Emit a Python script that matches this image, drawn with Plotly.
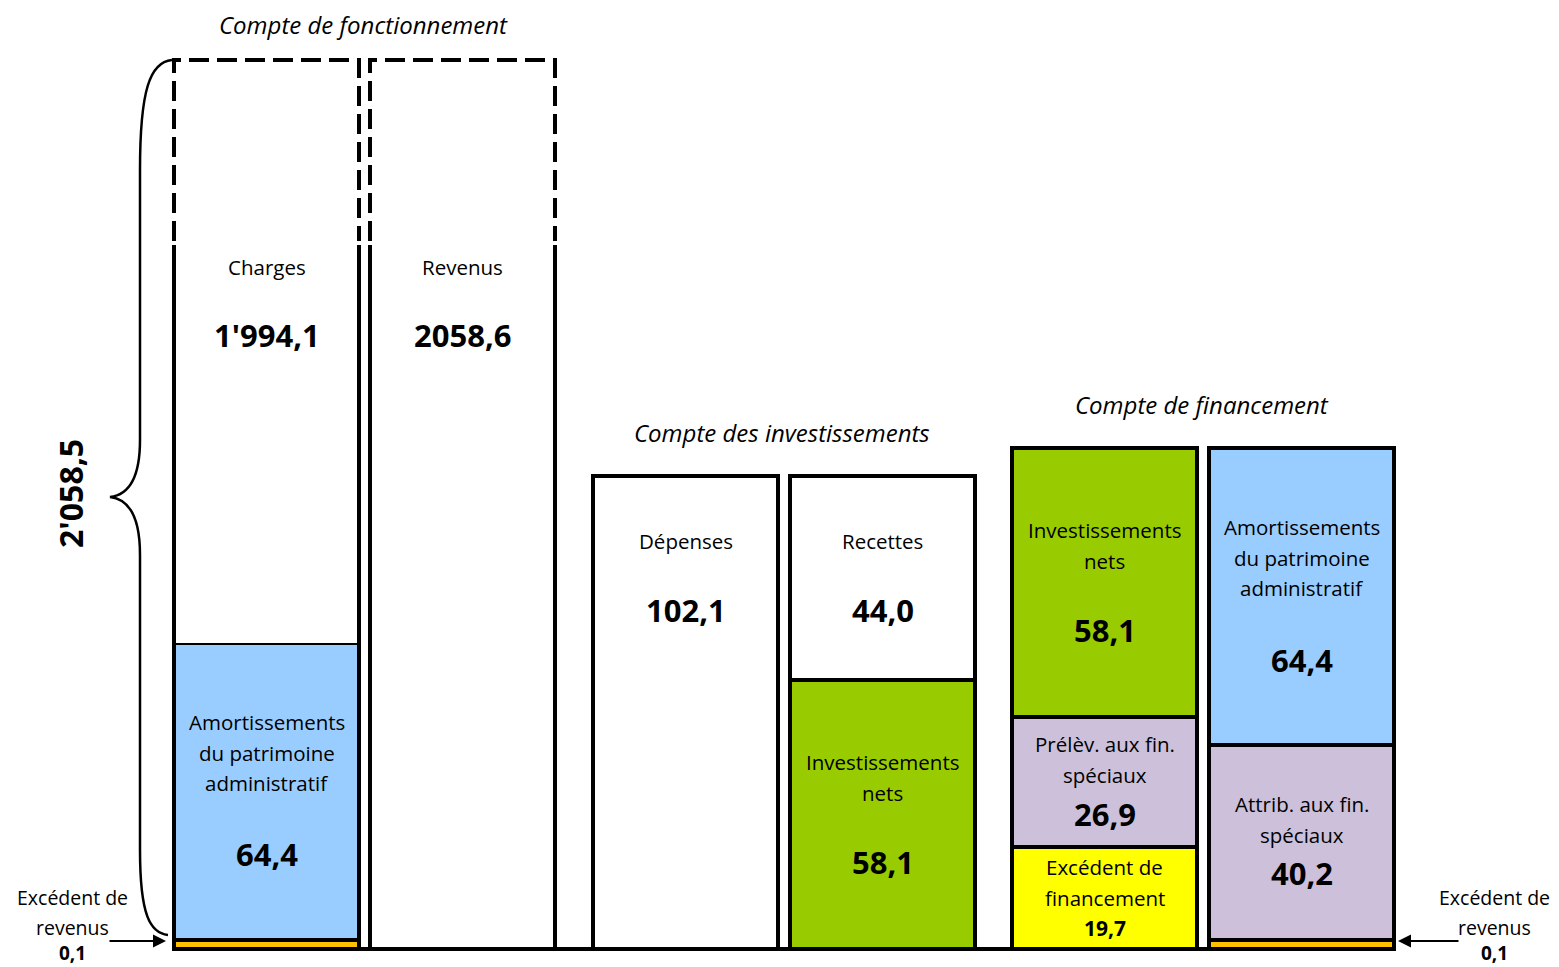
import plotly.graph_objects as go

# Schematic bar chart of the accounts (values in millions)
# one entry per segment, bottom to top inside each column
seg_column = ["Charges", "Charges", "Charges",
              "Revenus",
              "Dépenses",
              "Recettes", "Recettes",
              "FinA", "FinA", "FinA",
              "FinB", "FinB", "FinB"]
seg_label = ["Excédent de revenus",
             "Amortissements<br>du patrimoine<br>administratif",
             "Charges",
             "Revenus",
             "Dépenses",
             "Investissements<br>nets", "Recettes",
             "Excédent de<br>financement", "Prélèv. aux fin.<br>spéciaux", "Investissements<br>nets",
             "Excédent de revenus", "Attrib. aux fin.<br>spéciaux",
             "Amortissements<br>du patrimoine<br>administratif"]
seg_value = ["0,1", "64,4", "1'994,1",
             "2058,6",
             "102,1",
             "58,1", "44,0",
             "19,7", "26,9", "58,1",
             "0,1", "40,2", "64,4"]
# schematic (not to scale) display heights of the segments
seg_height = [9, 297, 583,
              889,
              473,
              269, 204,
              102, 130, 269,
              9, 195, 297]
seg_kind = ["surplus", "amort", "open",
            "open",
            "plain",
            "invest", "plain",
            "fin_surplus", "special", "invest",
            "surplus", "special", "amort"]

total_label = "2'058,5"
surplus_label = "Excédent de<br>revenus"
surplus_value = "0,1"

col_x = {"Charges": 266.5, "Revenus": 462.5, "Dépenses": 685.5,
         "Recettes": 882.5, "FinA": 1104.5, "FinB": 1301.5}
colors = {"surplus": "#FFC000", "amort": "#99CCFF", "open": "white",
          "plain": "white", "invest": "#99CC00", "fin_surplus": "#FFFF00",
          "special": "#CCC0DA"}

FONT = "Open Sans, Lato, sans-serif"
BAR_W = 185
LW = 4
TOP = 949  # pixel row of the baseline
PAGE_PAD = 8  # default body margin of the html page


def py(px):
    return TOP - px


fig = go.Figure()

bases = {}
for col, lab, val, h, kind in zip(seg_column, seg_label, seg_value, seg_height, seg_kind):
    b = bases.get(col, 0)
    fig.add_trace(go.Bar(
        x=[col_x[col]], y=[h], base=[b], width=BAR_W,
        marker=dict(color=colors[kind],
                    line=dict(color="black", width=0 if kind == "open" else LW)),
        hoverinfo="skip", showlegend=False,
    ))
    bases[col] = b + h

# open columns: solid lower sides, dashed upper part
solid_top = 707
for col in ["Charges", "Revenus"]:
    xl = col_x[col] - BAR_W / 2
    xr = col_x[col] + BAR_W / 2
    start = 0 if col == "Revenus" else 306
    for xx in (xl, xr):
        fig.add_trace(go.Scatter(x=[xx, xx], y=[start, solid_top - 3], mode="lines",
                                 line=dict(color="black", width=LW),
                                 hoverinfo="skip", showlegend=False))
    fig.add_trace(go.Scatter(x=[xl, xl, xr, xr], y=[solid_top + 1, bases[col], bases[col], solid_top + 1],
                             mode="lines", line=dict(color="black", width=LW, dash="20px,8px"),
                             hoverinfo="skip", showlegend=False))

# baseline
fig.add_trace(go.Scatter(x=[col_x["Charges"] - BAR_W / 2 - 2, col_x["FinB"] + BAR_W / 2 + 2], y=[0, 0],
                         mode="lines", line=dict(color="black", width=LW),
                         hoverinfo="skip", showlegend=False))

annotations = []


def ann(x, px, text, size=21, bold=False, italic=False, angle=0):
    if bold:
        text = "<b>" + text + "</b>"
    if italic:
        text = "<i>" + text + "</i>"
    annotations.append(dict(x=x, y=py(px), text=text, showarrow=False, textangle=angle,
                            font=dict(family=FONT, size=size, color="black"),
                            xanchor="center", yanchor="middle"))


def label(x, px, text, size=20.5, step=30.5):
    for i, line in enumerate(text.split("<br>")):
        ann(x, px + i * step, line, size)


# section titles
ann(363, 24, "Compte de fonctionnement", 24, italic=True)
ann(782, 432, "Compte des investissements", 24, italic=True)
ann(1202, 404, "Compte de financement", 24, italic=True)

# segment texts (first label line px, value px)
text_pos = [None, (722, 854), (267, 335),
            (267, 335),
            (541, 610),
            (762, 862), (541, 610),
            (867, 928), (744, 814), (530, 630),
            None, (804, 873), (527, 660)]
for col, lab, val, pos in zip(seg_column, seg_label, seg_value, text_pos):
    if pos is None:
        continue
    small = col == "FinA" and lab.startswith("Excédent")
    label(col_x[col], pos[0], lab)
    ann(col_x[col], pos[1], val, 21 if small else 31, bold=True)

# side labels and arrows
for sx in (72, 1494):
    label(sx, 897, surplus_label, size=19.5)
    ann(sx, 953, surplus_value, 19, bold=True)
for x0, x1 in [(108, 166), (1460, 1398)]:
    annotations.append(dict(x=x1, y=py(941), ax=x0, ay=py(941), axref="x", ayref="y",
                            xref="x", yref="y", text="", showarrow=True,
                            arrowhead=2, arrowsize=1.3, arrowwidth=2, arrowcolor="black"))

ann(70, 494, total_label, 32, bold=True, angle=-90)


# curly brace around the operating account
def pt(x, p):
    return f"{x},{py(p)}"


brace_path = (f"M {pt(172, 60)} C {pt(150, 62)} {pt(140, 90)} {pt(140, 170)} "
              f"L {pt(140, 440)} C {pt(140, 480)} {pt(128, 495)} {pt(110, 497)} "
              f"C {pt(128, 499)} {pt(140, 515)} {pt(140, 555)} "
              f"L {pt(140, 850)} C {pt(140, 915)} {pt(150, 933)} {pt(168, 935)}")
fig.add_shape(type="path", path=brace_path, xref="x", yref="y",
              line=dict(color="black", width=2.5))

fig.update_layout(
    width=1559 - PAGE_PAD, height=967 - PAGE_PAD,
    margin=dict(l=0, r=0, t=0, b=0),
    plot_bgcolor="white", paper_bgcolor="white",
    barmode="overlay", bargap=0,
    xaxis=dict(range=[PAGE_PAD, 1559], visible=False, fixedrange=True),
    yaxis=dict(range=[-18, TOP - PAGE_PAD], visible=False, fixedrange=True),
    annotations=annotations,
    showlegend=False,
)

fig.write_html("out.html")
